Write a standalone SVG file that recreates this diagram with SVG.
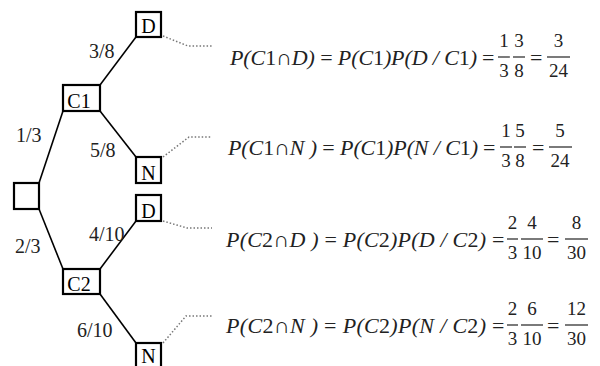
<svg xmlns="http://www.w3.org/2000/svg" width="600" height="366" viewBox="0 0 600 366">
<style>
text{font-family:'Liberation Serif','DejaVu Serif',serif}
.box{fill:#fff;stroke:#000;stroke-width:2.2}
.edge{stroke:#000;stroke-width:1.6;fill:none}
.dot{stroke:#777;stroke-width:1.5;stroke-dasharray:1.5 2;fill:none}
.lbl{font-size:20px;fill:#222}
.bl{font-size:20px;fill:#000;text-anchor:middle}
.eq{font-size:22px;font-style:italic;fill:#222}
.up{font-style:normal}
.fr{font-size:19px;fill:#222;text-anchor:middle}
.bar{stroke:#222;stroke-width:1.2}
</style>
<g id="connectors">
<line class="edge" x1="39" y1="183" x2="63" y2="111"/>
<line class="edge" x1="39" y1="209" x2="63" y2="269"/>
<line class="edge" x1="100" y1="85" x2="136" y2="37"/>
<line class="edge" x1="100" y1="111" x2="136" y2="157"/>
<line class="edge" x1="100" y1="269" x2="136" y2="221"/>
<line class="edge" x1="100" y1="294" x2="136" y2="343"/>
<polyline class="dot" points="163,36 188,46 212,46"/>
<polyline class="dot" points="163,157 189,137 212,137"/>
<polyline class="dot" points="163,221 187,228 212,228"/>
<polyline class="dot" points="163,343 186,316 212,316"/>
<text class="lbl" x="89" y="58">3/8</text>
<text class="lbl" x="16" y="142">1/3</text>
<text class="lbl" x="90" y="157">5/8</text>
<text class="lbl" x="15" y="253">2/3</text>
<text class="lbl" x="89" y="241">4/10</text>
<text class="lbl" x="77" y="337">6/10</text>
</g>
<g id="root"><rect class="box" x="14" y="183" width="25" height="26"/></g>
<g id="c1"><rect class="box" x="63" y="85" width="37" height="26"/><text class="bl" x="79" y="108">C1</text></g>
<g id="c2"><rect class="box" x="63" y="269" width="37" height="25"/><text class="bl" x="79" y="291">C2</text></g>
<g id="d1"><rect class="box" x="136" y="12" width="25" height="25"/><text class="bl" x="148.5" y="33">D</text></g>
<g id="n1"><rect class="box" x="136" y="157" width="25" height="26"/><text class="bl" x="148.5" y="180">N</text></g>
<g id="d2"><rect class="box" x="136" y="195" width="25" height="26"/><text class="bl" x="148.5" y="218">D</text></g>
<g id="n2"><rect class="box" x="136" y="343" width="25" height="26"/><text class="bl" x="148.5" y="363">N</text></g>

<g id="eq1">
<text class="eq" x="230" y="65" textLength="247" lengthAdjust="spacing">P(C<tspan class="up">1∩</tspan>D) <tspan class="up">=</tspan> P(C<tspan class="up">1</tspan>)P(D / C<tspan class="up">1</tspan>)</text>
<text class="eq up" x="482" y="65">=</text>
<text class="fr" x="504" y="47">1</text><line class="bar" x1="498" y1="57" x2="510" y2="57"/><text class="fr" x="504" y="77">3</text>
<text class="fr" x="519" y="47">3</text><line class="bar" x1="513" y1="57" x2="525" y2="57"/><text class="fr" x="519" y="77">8</text>
<text class="eq up" x="530" y="65">=</text>
<text class="fr" x="558.5" y="47">3</text><line class="bar" x1="547" y1="57" x2="570" y2="57"/><text class="fr" x="558.5" y="77">24</text>
</g>
<g id="eq2">
<text class="eq" x="228" y="155" textLength="250" lengthAdjust="spacing">P(C<tspan class="up">1∩</tspan>N ) <tspan class="up">=</tspan> P(C<tspan class="up">1</tspan>)P(N / C<tspan class="up">1</tspan>)</text>
<text class="eq up" x="483" y="155">=</text>
<text class="fr" x="506" y="137">1</text><line class="bar" x1="500" y1="147" x2="512" y2="147"/><text class="fr" x="506" y="167">3</text>
<text class="fr" x="520" y="137">5</text><line class="bar" x1="514" y1="147" x2="526" y2="147"/><text class="fr" x="520" y="167">8</text>
<text class="eq up" x="532" y="155">=</text>
<text class="fr" x="560" y="137">5</text><line class="bar" x1="549" y1="147" x2="572" y2="147"/><text class="fr" x="560" y="167">24</text>
</g>
<g id="eq3">
<text class="eq" x="226" y="247" textLength="260" lengthAdjust="spacing">P(C<tspan class="up">2∩</tspan>D ) <tspan class="up">=</tspan> P(C<tspan class="up">2</tspan>)P(D / C<tspan class="up">2</tspan>)</text>
<text class="eq up" x="492" y="247">=</text>
<text class="fr" x="512.5" y="229">2</text><line class="bar" x1="507" y1="239" x2="518" y2="239"/><text class="fr" x="512.5" y="259">3</text>
<text class="fr" x="532" y="229">4</text><line class="bar" x1="521" y1="239" x2="543" y2="239"/><text class="fr" x="532" y="259">10</text>
<text class="eq up" x="547" y="247">=</text>
<text class="fr" x="576.5" y="229">8</text><line class="bar" x1="565" y1="239" x2="588" y2="239"/><text class="fr" x="576.5" y="259">30</text>
</g>
<g id="eq4">
<text class="eq" x="226" y="333" textLength="260" lengthAdjust="spacing">P(C<tspan class="up">2∩</tspan>N ) <tspan class="up">=</tspan> P(C<tspan class="up">2</tspan>)P(N / C<tspan class="up">2</tspan>)</text>
<text class="eq up" x="492" y="333">=</text>
<text class="fr" x="512.5" y="315">2</text><line class="bar" x1="507" y1="325" x2="518" y2="325"/><text class="fr" x="512.5" y="345">3</text>
<text class="fr" x="532" y="315">6</text><line class="bar" x1="521" y1="325" x2="543" y2="325"/><text class="fr" x="532" y="345">10</text>
<text class="eq up" x="547" y="333">=</text>
<text class="fr" x="576.5" y="315">12</text><line class="bar" x1="565" y1="325" x2="588" y2="325"/><text class="fr" x="576.5" y="345">30</text>
</g>
</svg>
